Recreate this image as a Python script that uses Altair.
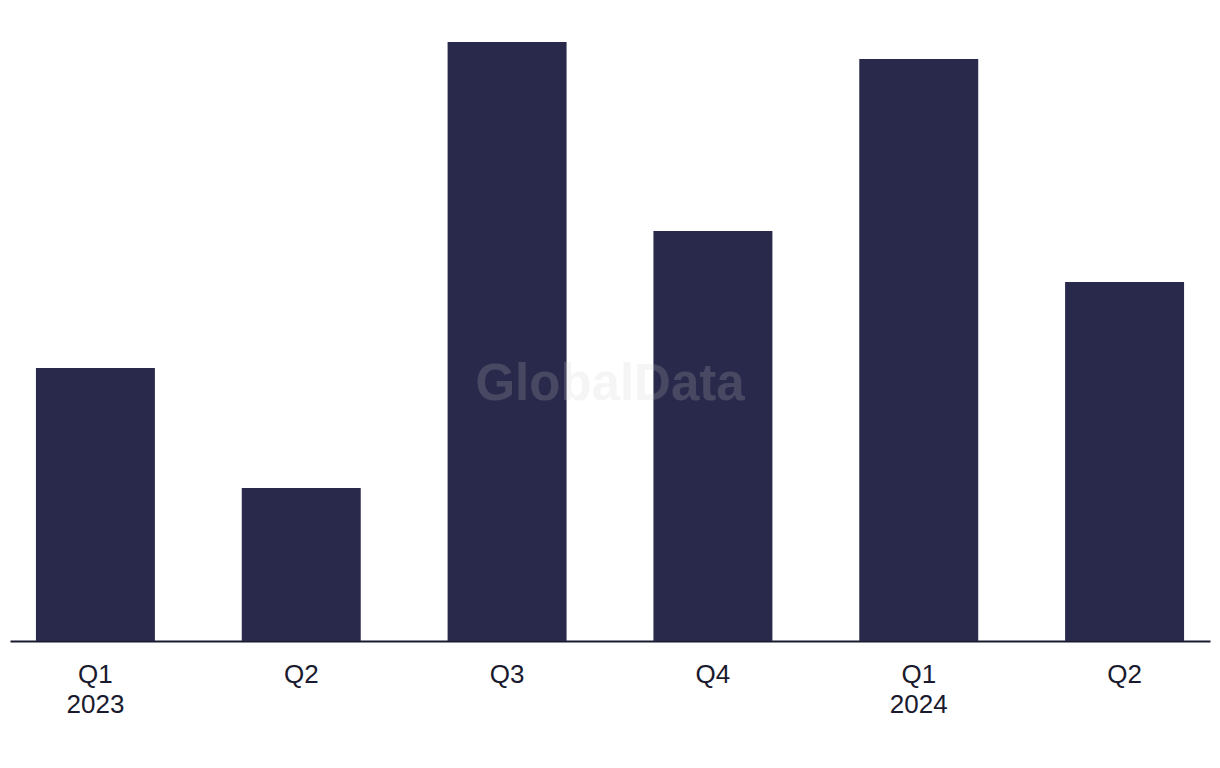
import altair as alt
import pandas as pd

quarters = ["Q1 2023", "Q2 2023", "Q3 2023", "Q4 2023", "Q1 2024", "Q2 2024"]
values = [273, 153, 599, 410, 582, 359]

df = pd.DataFrame({"quarter": quarters, "value": values})

label_expr = (
    "datum.value == 'Q1 2023' ? ['Q1','2023'] : "
    "datum.value == 'Q1 2024' ? ['Q1','2024'] : split(datum.value, ' ')[0]"
)

bars = alt.Chart(df).mark_bar(color="#29294b").encode(
    x=alt.X(
        "quarter:N",
        sort=quarters,
        title=None,
        scale=alt.Scale(paddingInner=0.422, paddingOuter=0.126),
        axis=alt.Axis(
            labelExpr=label_expr,
            labelAngle=0,
            labelFontSize=26,
            labelFont="Liberation Sans",
            labelColor="#1a1a2e",
            labelPadding=20,
            labelLineHeight=30,
            ticks=False,
            domainColor="#1a1a2e",
            domainWidth=2,
            grid=False,
        ),
    ),
    y=alt.Y(
        "value:Q",
        axis=None,
        scale=alt.Scale(domain=[0, 599], nice=False),
    ),
)

watermark = alt.Chart(pd.DataFrame({"t": ["GlobalData"]})).mark_text(
    fontSize=51,
    fontWeight="bold",
    font="Liberation Sans",
    color="#cbcbcb",
    opacity=0.19,
).encode(
    text="t:N",
    x=alt.value(600),
    y=alt.value(343),
)

chart = (
    alt.layer(bars, watermark)
    .properties(
        width=1200,
        height=599,
        background="white",
        padding={"left": 2, "top": 34, "right": 2, "bottom": 2},
    )
    .configure_view(strokeWidth=0, stroke="transparent")
)

chart.save("out.html", embed_options={"renderer": "svg", "actions": False})
